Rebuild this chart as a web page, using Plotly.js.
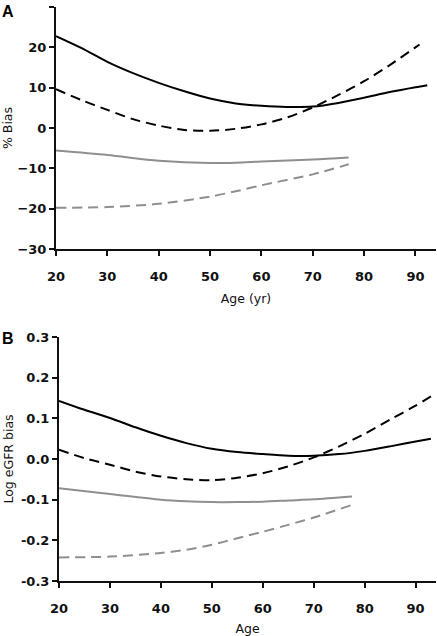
<!DOCTYPE html>
<html>
<head>
<meta charset="utf-8">
<script src="https://cdn.plot.ly/plotly-3.0.1.min.js"></script>
<style>html,body{margin:0;padding:0;background:#fff}#chart{width:437px;height:636px}</style>
</head>
<body>
<div id="chart"></div>
<script>
// Panel A: % Bias vs Age (yr)
const ageA_solidBlack = [20, 25, 30, 35, 40, 45, 50, 55, 60, 65, 70, 75, 80, 85, 90, 92.3];
const biasA_solidBlack = [22.8, 19.8, 16.4, 13.6, 11.2, 9.1, 7.3, 6.1, 5.5, 5.2, 5.3, 6.2, 7.5, 8.9, 10.1, 10.6];
const ageA_dashBlack = [20, 25, 30, 35, 40, 45, 50, 55, 60, 65, 70, 75, 80, 85, 90, 90.8];
const biasA_dashBlack = [9.6, 6.9, 4.5, 2.2, 0.6, -0.5, -0.7, -0.2, 0.9, 2.6, 5.1, 8.2, 11.6, 15.6, 20.0, 20.7];
const ageA_gray = [20, 30, 40, 50, 55, 60, 70, 77];
const biasA_solidGray = [-5.6, -6.7, -8.1, -8.7, -8.6, -8.3, -7.8, -7.3];
const biasA_dashGray = [-19.8, -19.6, -18.8, -17.0, -15.7, -14.2, -11.5, -9.0];

// Panel B: Log eGFR bias vs Age
const ageB_solidBlack = [20, 25, 30, 35, 40, 45, 50, 55, 60, 65, 70, 75, 80, 85, 90, 93];
const biasB_solidBlack = [0.143, 0.121, 0.101, 0.078, 0.057, 0.039, 0.025, 0.017, 0.012, 0.008, 0.008, 0.012, 0.020, 0.031, 0.043, 0.050];
const ageB_dashBlack = [20, 25, 30, 35, 40, 45, 50, 55, 60, 65, 70, 75, 80, 85, 90, 93];
const biasB_dashBlack = [0.023, 0.002, -0.014, -0.031, -0.043, -0.050, -0.052, -0.046, -0.035, -0.018, 0.004, 0.031, 0.062, 0.097, 0.131, 0.154];
const ageB_gray = [20, 30, 40, 45, 50, 55, 60, 65, 70, 77.5];
const biasB_solidGray = [-0.072, -0.086, -0.100, -0.104, -0.106, -0.106, -0.105, -0.102, -0.099, -0.092];
const biasB_dashGray = [-0.242, -0.240, -0.231, -0.223, -0.211, -0.195, -0.179, -0.162, -0.144, -0.113];

const xTicks = [20, 30, 40, 50, 60, 70, 80, 90];
const yTicksA = [-30, -20, -10, 0, 10, 20, 30];
const yTicksB = [-0.3, -0.2, -0.1, 0.0, 0.1, 0.2, 0.3];
const yTickTextB = ['-0.3', '-0.2', '-0.1', '0.0', '0.1', '0.2', '0.3'];

const BLACK = '#000000', GRAY = '#8f8f8f';
const DASH = '10px,6px';
function tr(x, y, color, dash, xa, ya) {
  return {x: x, y: y, type: 'scatter', mode: 'lines', xaxis: xa, yaxis: ya,
    line: {color: color, width: 2, dash: dash, shape: 'spline', smoothing: 0.8},
    hoverinfo: 'skip', showlegend: false};
}
const data = [
  tr(ageA_solidBlack, biasA_solidBlack, BLACK, 'solid', 'x', 'y'),
  tr(ageA_dashBlack, biasA_dashBlack, BLACK, DASH, 'x', 'y'),
  tr(ageA_gray, biasA_solidGray, GRAY, 'solid', 'x', 'y'),
  tr(ageA_gray, biasA_dashGray, GRAY, DASH, 'x', 'y'),
  tr(ageB_solidBlack, biasB_solidBlack, BLACK, 'solid', 'x2', 'y2'),
  tr(ageB_dashBlack, biasB_dashBlack, BLACK, DASH, 'x2', 'y2'),
  tr(ageB_gray, biasB_solidGray, GRAY, 'solid', 'x2', 'y2'),
  tr(ageB_gray, biasB_dashGray, GRAY, DASH, 'x2', 'y2')
];

const W = 437, H = 636;
const tickFont = {family: 'DejaVu Sans', size: 13, weight: 'bold', color: '#111'};
const titleFont = {family: 'DejaVu Sans', size: 12.5, color: '#111'};
function xax(domain, anchor, title) {
  return {domain: domain, anchor: anchor, range: [20, 94], tickvals: xTicks,
    showgrid: false, zeroline: false, showline: true, linecolor: '#111', linewidth: 2,
    ticks: 'outside', ticklen: 5, tickwidth: 2, tickcolor: '#111', ticklabelstandoff: 9,
    tickfont: tickFont,
    title: {text: title, font: titleFont, standoff: 12}, automargin: false};
}
function yax(domain, anchor, range, vals, text, title) {
  const a = {domain: domain, anchor: anchor, range: range, tickvals: vals,
    showgrid: false, zeroline: false, showline: true, linecolor: '#111', linewidth: 2,
    ticks: 'outside', ticklen: 5, tickwidth: 2, tickcolor: '#111',
    tickfont: tickFont,
    title: {text: title, font: titleFont, standoff: 5}, automargin: false};
  if (text) a.ticktext = text;
  return a;
}
const layout = {
  width: W, height: H, margin: {l: 0, r: 0, t: 0, b: 0},
  paper_bgcolor: '#fff', plot_bgcolor: '#fff', showlegend: false,
  xaxis: xax([56 / W, 436 / W], 'y', 'Age (yr)'),
  yaxis: yax([1 - 249 / H, 1 - 7 / H], 'x', [-30, 30], yTicksA, null, '% Bias'),
  xaxis2: xax([59 / W, 436 / W], 'y2', 'Age'),
  yaxis2: yax([1 - 581 / H, 1 - 337 / H], 'x2', [-0.3, 0.3], yTicksB, yTickTextB, 'Log eGFR bias'),
  annotations: [
    {text: 'A', xref: 'paper', yref: 'paper', x: 0, y: 1 - 12 / H, xanchor: 'left', yanchor: 'middle',
      showarrow: false, font: {family: 'Liberation Sans', size: 16, weight: 'bold', color: '#000'}},
    {text: 'B', xref: 'paper', yref: 'paper', x: 0, y: 1 - 338 / H, xanchor: 'left', yanchor: 'middle',
      showarrow: false, font: {family: 'Liberation Sans', size: 16, weight: 'bold', color: '#000'}}
  ]
};
Plotly.newPlot('chart', data, layout, {staticPlot: true, displayModeBar: false});
</script>
</body>
</html>
